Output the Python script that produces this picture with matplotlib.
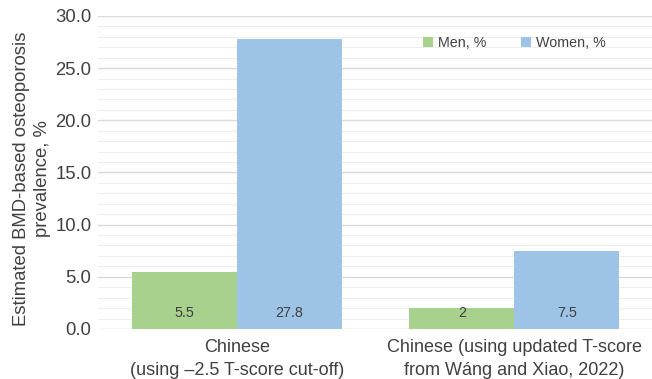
import numpy as np
import matplotlib.pyplot as plt
from matplotlib.ticker import MultipleLocator

plt.rcParams['font.family'] = ['Liberation Sans', 'DejaVu Sans']

categories = ["Chinese\n(using \u20132.5 T-score cut-off)",
              "Chinese (using updated T-score\nfrom W\u00e1ng and Xiao, 2022)"]
men = [5.5, 2]
women = [27.8, 7.5]
men_labels = ["5.5", "2"]
women_labels = ["27.8", "7.5"]

fig = plt.figure(figsize=(6.52, 3.79), dpi=100)
ax = fig.add_axes([0.150, 0.132, 0.852, 0.826])

x = np.arange(len(categories))
width = 0.378
text_color = '#404040'

ax.bar(x - width/2, men, width, color='#A9D18E', label='Men, %', zorder=3)
ax.bar(x + width/2, women, width, color='#9DC3E6', label='Women, %', zorder=3)

for i in range(len(categories)):
    ax.text(x[i] - width/2, 1.5, men_labels[i], ha='center', va='center',
            fontsize=10.4, color=text_color, zorder=4)
    ax.text(x[i] + width/2, 1.5, women_labels[i], ha='center', va='center',
            fontsize=10.4, color=text_color, zorder=4)

ax.set_xlim(-0.5, 1.5)
ax.set_ylim(0, 30)
ax.yaxis.set_major_locator(MultipleLocator(5))
ax.yaxis.set_minor_locator(MultipleLocator(1))
ax.set_yticklabels([f"{v:.1f}" for v in ax.get_yticks()])
ax.set_xticks(x)
ax.set_xticklabels(categories, fontsize=13, color=text_color, linespacing=1.45)
ax.tick_params(axis='y', labelsize=13.3, labelcolor=text_color, length=0, which='both', pad=4.5)
ax.tick_params(axis='x', length=0, pad=7)

ax.grid(axis='y', which='major', color='#D9D9D9', linewidth=1.0, zorder=0)
ax.grid(axis='y', which='minor', color='#EEEEEE', linewidth=0.8, zorder=0)
for s in ax.spines.values():
    s.set_visible(False)

ax.set_ylabel("Estimated BMD-based osteoporosis\nprevalence, %", fontsize=13.3,
              color=text_color, linespacing=1.3)
ax.yaxis.set_label_coords(-0.085, 0.48)

ax.legend(loc='center', bbox_to_anchor=(0.75, 0.914), ncol=2, frameon=False,
          fontsize=10.3, handlelength=0.7, handleheight=0.7, columnspacing=2.4,
          handletextpad=0.35, labelcolor=text_color)

fig.savefig('out.png', dpi=100)
